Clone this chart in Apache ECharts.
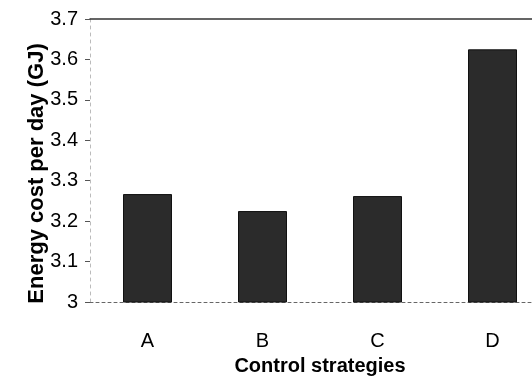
<!DOCTYPE html>
<html>
<head>
<meta charset="utf-8">
<script src="https://cdn.jsdelivr.net/npm/echarts@6/dist/echarts.min.js"></script>
<style>
  html, body { margin: 0; padding: 0; background: #fff; }
  #chart { width: 532px; height: 380px; }
</style>
</head>
<body>
<div id="chart"></div>
<script>
// Daily energy cost for each control strategy
const strategies = ['A', 'B', 'C', 'D'];
const energyCost = [3.267, 3.225, 3.262, 3.625];
const yTicks = [3, 3.1, 3.2, 3.3, 3.4, 3.5, 3.6, 3.7];

const chart = echarts.init(document.getElementById('chart'), null, { renderer: 'canvas' });

const font = '"Liberation Sans", Arial, sans-serif';

chart.setOption({
  animation: false,
  backgroundColor: '#ffffff',
  grid: { left: 90, top: 19, right: -18, bottom: 78, outerBoundsMode: 'none', containLabel: false },
  xAxis: [
    {
      type: 'category',
      data: strategies,
      axisLine: { show: true, lineStyle: { color: '#666', type: [3, 3], width: 1 } },
      axisTick: { show: false },
      axisLabel: { color: '#000', fontFamily: font, fontSize: 20, margin: 29 },
      name: 'Control strategies',
      nameLocation: 'middle',
      nameGap: 54,
      nameMoveOverlap: false,
      nameTextStyle: { color: '#000', fontFamily: font, fontSize: 20, fontWeight: 'bold' }
    },
    {
      // top frame line at 3.7
      type: 'category',
      data: strategies,
      position: 'top',
      axisLine: { show: true, lineStyle: { color: '#333', width: 1.5 } },
      axisTick: { show: false },
      axisLabel: { show: false }
    }
  ],
  yAxis: {
    type: 'value',
    min: yTicks[0],
    max: yTicks[yTicks.length - 1],
    interval: 0.1,
    axisLine: { show: true, lineStyle: { color: '#bbb', type: [3, 4], width: 1 } },
    axisTick: { show: true, length: 5, lineStyle: { color: '#555' } },
    splitLine: { show: false },
    axisLabel: {
      color: '#000', fontFamily: font, fontSize: 20, margin: 12,
      formatter: v => {
        const r = Math.round(v * 10) / 10;
        return yTicks.includes(r) ? String(r) : '';
      }
    },
    name: 'Energy cost per day (GJ)',
    nameLocation: 'middle',
    nameGap: 42,
    nameMoveOverlap: false,
    nameTextStyle: {
      color: '#000', fontFamily: font, fontSize: 22, fontWeight: 'bold',
      padding: [0, 26, 0, 0]
    }
  },
  series: [{
    type: 'bar',
    data: energyCost,
    barWidth: 49,
    itemStyle: { color: '#2b2b2b', borderColor: '#111', borderWidth: 1 }
  }]
});
</script>
</body>
</html>
